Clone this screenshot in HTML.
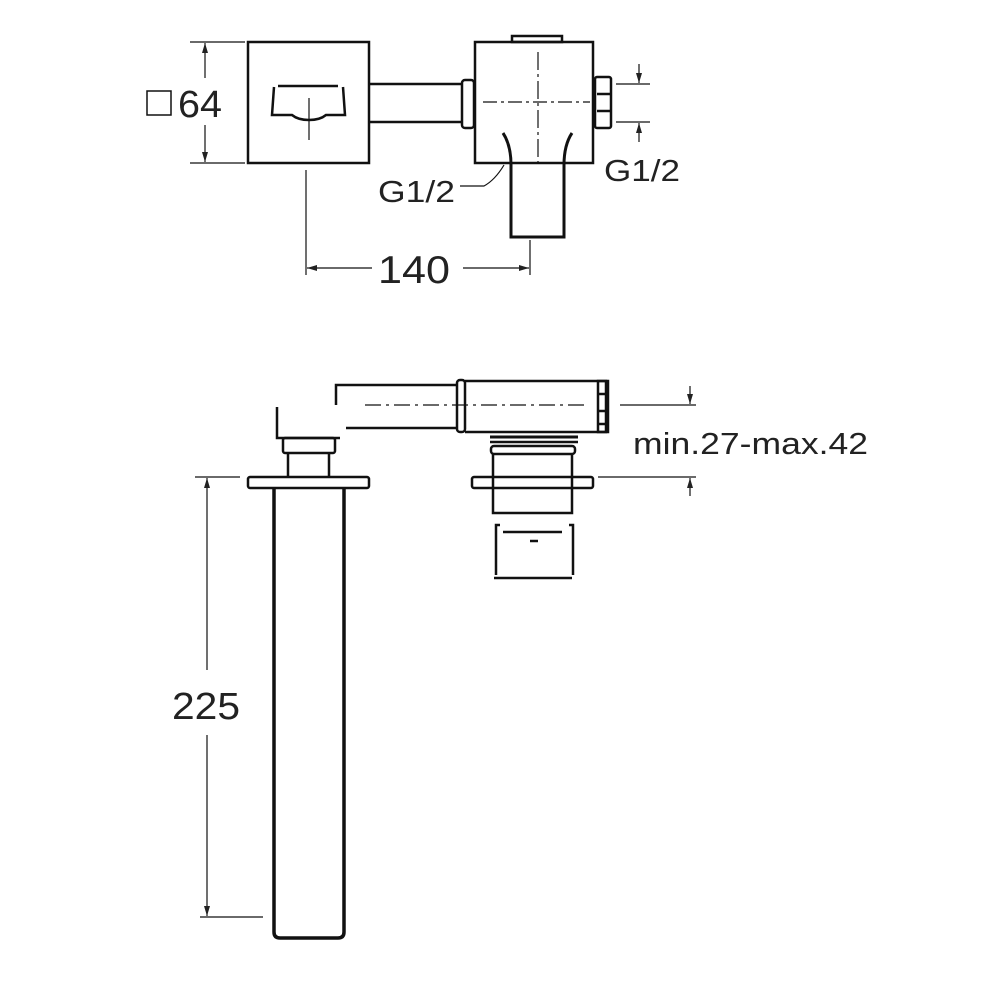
<!DOCTYPE html>
<html><head><meta charset="utf-8"><style>
html,body{margin:0;padding:0;background:#fff;width:1000px;height:1000px;overflow:hidden}
text{font-family:"Liberation Sans",sans-serif;fill:#222}
</style></head><body>
<svg width="1000" height="1000" viewBox="0 0 1000 1000" xmlns="http://www.w3.org/2000/svg">
<defs>
<marker id="a" viewBox="0 0 10 10" refX="10" refY="5" markerWidth="10" markerHeight="10" orient="auto-start-reverse" markerUnits="userSpaceOnUse"><path d="M0,2 L10,5 L0,8 z" fill="#222"/></marker>
</defs>
<g fill="none" stroke="#111" stroke-width="2.5">
<!-- top view -->
<rect x="248" y="42" width="121" height="121"/>
<path d="M278 86 H338 M274 87 L272 115 H292 Q298 120 309 120 Q320 120 326 115 H345 L343 87"/>
<line x1="309" y1="98" x2="309" y2="140" stroke-width="1.2"/>
<line x1="369" y1="84" x2="462" y2="84"/>
<line x1="369" y1="122" x2="462" y2="122"/>
<rect x="462" y="80" width="12" height="48" rx="3"/>
<rect x="475" y="42" width="118" height="121"/>
<rect x="512" y="36" width="50" height="6"/>
<rect x="595" y="77" width="16" height="51" rx="2"/>
<line x1="597" y1="94" x2="611" y2="94"/><line x1="597" y1="111" x2="611" y2="111"/>
<line x1="483" y1="102" x2="590" y2="102" stroke-width="1.2" stroke-dasharray="14,4,3,4"/>
<line x1="538" y1="52" x2="538" y2="168" stroke-width="1.2" stroke-dasharray="18,4,3,4"/>
<path d="M503 133 Q511 145 511 165 V237 H564 V165 Q564 145 572 133" stroke-width="3"/>
<path d="M504 165 Q495 180 484 186 H460" stroke-width="1.2"/>
<!-- top dims -->
<g stroke-width="1.2">
<line x1="190" y1="42" x2="245" y2="42"/><line x1="190" y1="163" x2="245" y2="163"/>
<line x1="205" y1="78" x2="205" y2="43" marker-end="url(#a)"/>
<line x1="205" y1="125" x2="205" y2="162" marker-end="url(#a)"/>
<line x1="616" y1="84" x2="650" y2="84"/><line x1="616" y1="122" x2="650" y2="122"/>
<line x1="639" y1="64" x2="639" y2="83" marker-end="url(#a)"/>
<line x1="639" y1="142" x2="639" y2="123" marker-end="url(#a)"/>
<line x1="306" y1="170" x2="306" y2="275"/><line x1="530" y1="240" x2="530" y2="275"/>
<line x1="372" y1="268" x2="307" y2="268" marker-end="url(#a)"/>
<line x1="463" y1="268" x2="529" y2="268" marker-end="url(#a)"/>
</g>
<!-- side view -->
<path d="M336 405 V385 H457 M346 428 H457"/>
<rect x="457" y="380" width="8" height="52" rx="3"/>
<path d="M465 381 H606 V432 H465"/>
<rect x="598" y="381" width="10" height="51"/>
<line x1="598" y1="394" x2="608" y2="394"/><line x1="598" y1="411" x2="608" y2="411"/><line x1="598" y1="424" x2="608" y2="424"/>
<line x1="365" y1="405" x2="585" y2="405" stroke-width="1.2" stroke-dasharray="16,5,3,5"/>
<line x1="490" y1="437" x2="578" y2="437" stroke-width="3"/>
<line x1="490" y1="442" x2="578" y2="442"/>
<rect x="491" y="446" width="84" height="8" rx="3"/>
<path d="M493 454 V513 H572 V454"/>
<rect x="472" y="477" width="121" height="11" rx="2"/>
<path d="M496 531 V525 H500 M569 525 H573 V531 M496 531 V575 M573 531 V575 M494 578 H572 M503 532 H562"/>
<line x1="530" y1="541" x2="538" y2="541"/>
<path d="M277 407 V438 H340"/>
<rect x="283" y="438" width="52" height="15" rx="2"/>
<path d="M288 453 V477 M329 453 V477"/>
<rect x="248" y="477" width="121" height="11" rx="2"/>
<path d="M274 488 V932 Q274 938 280 938 H338 Q344 938 344 932 V488" stroke-width="3.5"/>
<g stroke-width="1.2">
<line x1="195" y1="477" x2="240" y2="477"/><line x1="200" y1="917" x2="263" y2="917"/>
<line x1="207" y1="670" x2="207" y2="478" marker-end="url(#a)"/>
<line x1="207" y1="735" x2="207" y2="916" marker-end="url(#a)"/>
<line x1="620" y1="405" x2="696" y2="405"/><line x1="598" y1="477" x2="696" y2="477"/>
<line x1="690" y1="386" x2="690" y2="404" marker-end="url(#a)"/>
<line x1="690" y1="496" x2="690" y2="478" marker-end="url(#a)"/>
</g>
<rect x="147" y="91" width="24" height="24" stroke-width="1.5"/>
</g>
<text x="178" y="117" font-size="38" textLength="44" lengthAdjust="spacingAndGlyphs">64</text>
<text x="378" y="202" font-size="31" textLength="77" lengthAdjust="spacingAndGlyphs">G1/2</text>
<text x="604" y="181" font-size="31" textLength="76" lengthAdjust="spacingAndGlyphs">G1/2</text>
<text x="378" y="283" font-size="39" textLength="72" lengthAdjust="spacingAndGlyphs">140</text>
<text x="633" y="454" font-size="31" textLength="235" lengthAdjust="spacingAndGlyphs">min.27-max.42</text>
<text x="172" y="719" font-size="38" textLength="68" lengthAdjust="spacingAndGlyphs">225</text>
</svg>
</body></html>
